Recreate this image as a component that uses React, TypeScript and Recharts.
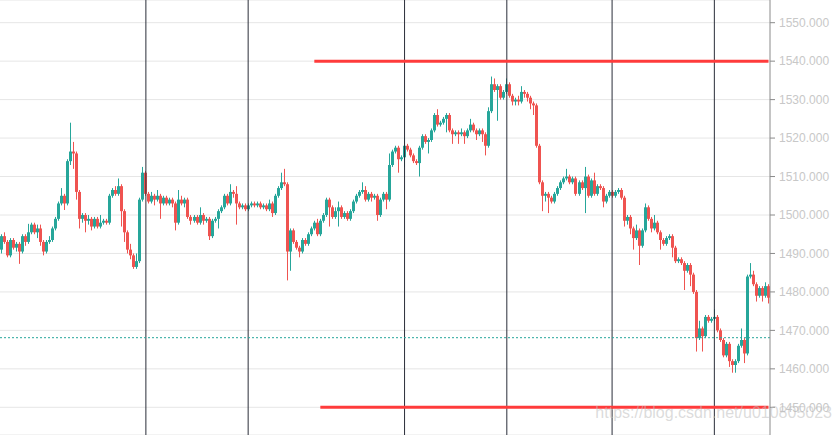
import { ComposedChart, Bar, XAxis, YAxis, CartesianGrid, ReferenceLine } from 'recharts';

// price of the first candle's open; every later open is the previous close
const firstOpen = 1491;

const closes = [
  1494.5, 1493, 1489.5, 1493.5, 1491.5, 1492.5, 1490.5, 1494.5, 1493, 1495.5,
  1497.5, 1495.5, 1496.5, 1493, 1490.5, 1493, 1493.5, 1496.5, 1499, 1503,
  1505, 1503, 1514, 1516.5, 1516, 1506, 1499, 1500, 1498.5, 1499,
  1497, 1499, 1497, 1498, 1498.5, 1498, 1505, 1506.5, 1505.5, 1507.5,
  1501, 1495.5, 1491, 1489.5, 1486.5, 1488, 1504, 1511, 1505.5, 1503.5,
  1505, 1504, 1505, 1503, 1504.5, 1503, 1504, 1503, 1498, 1504,
  1503, 1504, 1499.5, 1498.5, 1499.5, 1498, 1500, 1498.5, 1499, 1494.5,
  1498.5, 1499, 1501, 1502, 1505, 1503, 1506, 1505.5, 1503, 1502,
  1502.5, 1501.5, 1502.5, 1503, 1502.5, 1503, 1502, 1502.5, 1501.5, 1503,
  1500.5, 1505, 1507, 1508.5, 1508, 1490.5, 1496, 1493, 1491.5, 1490.5,
  1493.5, 1492.5, 1495, 1496.5, 1498, 1495, 1498.5, 1500, 1504, 1502,
  1499.5, 1501, 1502, 1499.5, 1500.5, 1499, 1501, 1503.5, 1505, 1506,
  1506.5, 1504, 1505.5, 1504.5, 1505, 1500, 1504, 1505.5, 1504, 1513,
  1516.5, 1517.5, 1514.5, 1515, 1518, 1517, 1515.5, 1514, 1513.5, 1517.5,
  1520.5, 1519, 1519.5, 1522, 1526, 1523.5, 1524, 1525, 1526, 1522,
  1521, 1521.5, 1521, 1521.5, 1520.5, 1522, 1523.5, 1522, 1521, 1522,
  1521, 1518, 1527, 1534, 1532.5, 1533.5, 1530.5, 1532, 1534, 1531,
  1529.5, 1530, 1529.5, 1532, 1531.5, 1530.5, 1529, 1528.5, 1518, 1508.5,
  1505, 1505.5, 1504.5, 1503.5, 1505.5, 1507, 1508.5, 1509.5, 1510, 1508.5,
  1509.5, 1505.5, 1508.5, 1507, 1510, 1505, 1509, 1505.5, 1507.5, 1507,
  1503.5, 1505, 1506, 1505, 1506, 1506.5, 1504.5, 1498.5, 1499.5, 1496.5,
  1494, 1496, 1492, 1496, 1502, 1499, 1496.5, 1498, 1495.5, 1493.5,
  1492.5, 1494, 1494.5, 1491.5, 1488, 1488.5, 1487.5, 1485.5, 1487, 1484.5,
  1480, 1468, 1470.5, 1468.5, 1473.5, 1472.5, 1473, 1473.5, 1470, 1467.5,
  1463.5, 1466.5, 1462, 1461, 1462, 1466, 1467.5, 1464, 1484, 1484.5,
  1482, 1479, 1481, 1479, 1481.5, 1478.5,
];

const highs = [
  1495, 1495.5, 1493.5, 1494, 1494, 1493, 1493, 1495, 1495, 1497.7,
  1498, 1498, 1497.5, 1497.5, 1493.5, 1493.5, 1494.5, 1497, 1499.5, 1503.5,
  1507, 1505.5, 1514.5, 1524, 1519, 1516.5, 1506.5, 1500.5, 1500.5, 1500,
  1499.5, 1499.5, 1499.5, 1500, 1499, 1499, 1505.5, 1507, 1507.5, 1509.5,
  1508, 1501.5, 1496, 1492.5, 1490, 1490, 1504.5, 1512.5, 1511.5, 1506,
  1506, 1505.5, 1506.5, 1505.5, 1505, 1505, 1504.5, 1504.5, 1503.5, 1506.5,
  1505, 1504.5, 1504.5, 1500, 1500, 1500, 1502, 1500.5, 1499.5, 1499.5,
  1499, 1499.5, 1501.5, 1502.5, 1505.5, 1505.5, 1508, 1506.5, 1507.5, 1503.5,
  1503, 1503, 1503, 1503.5, 1503.5, 1503.5, 1503.5, 1503, 1503, 1504,
  1503.5, 1505.5, 1507.5, 1511, 1512, 1508.5, 1496.5, 1496.5, 1493.5, 1492,
  1494, 1494, 1495.5, 1497, 1498.5, 1499, 1499, 1500.5, 1504.5, 1504.5,
  1502.5, 1502, 1503.5, 1502.5, 1501, 1501, 1501.5, 1504, 1505.5, 1506.5,
  1508.5, 1507.5, 1506, 1506, 1505.5, 1505.5, 1504.5, 1506, 1506, 1516,
  1517, 1518, 1518, 1515.5, 1520, 1518.5, 1517.5, 1516, 1514.5, 1518,
  1521, 1521, 1520, 1522.5, 1526.5, 1527.5, 1524.5, 1525.5, 1526.5, 1526.5,
  1522.5, 1522, 1522, 1522.5, 1522, 1522.5, 1525, 1524, 1522.5, 1522.5,
  1522.5, 1521.5, 1528, 1536, 1535.5, 1534, 1534, 1532.5, 1535.5, 1534.5,
  1531.5, 1530.5, 1531, 1533.5, 1532.5, 1532, 1531, 1529.5, 1529, 1518.5,
  1509, 1506, 1506, 1505, 1506, 1507.5, 1509, 1510, 1512, 1510.5,
  1510, 1510, 1509, 1509, 1512.5, 1510.5, 1509.5, 1511, 1508, 1508,
  1507.5, 1505.5, 1506.5, 1506.5, 1506.5, 1507, 1507, 1505, 1500, 1500,
  1497, 1497.5, 1496.5, 1496.5, 1503, 1502.5, 1499.5, 1500, 1498.5, 1496,
  1494, 1494.5, 1495, 1495, 1492, 1489, 1489, 1488, 1487.5, 1487.5,
  1485, 1480.5, 1472.5, 1471, 1474, 1474, 1473.5, 1475.5, 1474, 1470.5,
  1468, 1467, 1467, 1462.5, 1462.5, 1466.5, 1470.5, 1468, 1484.5, 1487.5,
  1485.5, 1482.5, 1481.5, 1481.5, 1482.5, 1482,
];

const lows = [
  1490, 1492.5, 1489, 1489, 1491, 1490.5, 1487.3, 1490, 1492, 1492.5,
  1495, 1495, 1494, 1492, 1489.5, 1490, 1492.5, 1493, 1496, 1498.5,
  1502.5, 1501.3, 1502.5, 1513, 1512, 1504, 1496.5, 1498, 1495.5, 1497.5,
  1496, 1496.5, 1496.5, 1496.5, 1497.5, 1497.5, 1497.5, 1504.5, 1505, 1505,
  1497, 1493, 1490, 1488.5, 1486, 1486, 1487.5, 1503.5, 1505, 1503,
  1503, 1502.5, 1503.5, 1499, 1502.5, 1502.5, 1502.5, 1502, 1496, 1497.5,
  1502.5, 1502, 1499, 1497.5, 1498, 1497.5, 1497.5, 1497.5, 1498, 1493.5,
  1494, 1498, 1496.5, 1500.5, 1501.5, 1502.5, 1502.5, 1504.5, 1497.5, 1501.5,
  1501.5, 1501, 1501, 1502, 1502, 1502, 1501.5, 1501.5, 1501, 1501,
  1499.5, 1500, 1504.5, 1506.5, 1507.5, 1483, 1485.5, 1492.5, 1491, 1489,
  1490, 1492, 1492, 1494.5, 1496, 1494.5, 1494.5, 1498, 1499.5, 1497,
  1499, 1499, 1497, 1499, 1499, 1498.5, 1498.5, 1500.5, 1503, 1504.5,
  1505.5, 1503.5, 1503.5, 1503.5, 1504, 1498.5, 1499.5, 1503.5, 1501.5, 1503.5,
  1512.5, 1516, 1511, 1514, 1512.5, 1516.5, 1515, 1513.5, 1513, 1510,
  1517, 1518.5, 1516, 1519, 1521.5, 1523, 1523, 1523.5, 1521.5, 1521.5,
  1518.5, 1520.5, 1518.5, 1520.5, 1518.5, 1520, 1521.5, 1521.5, 1519.5, 1520.5,
  1519, 1515.5, 1517.5, 1526.5, 1532, 1524.5, 1530, 1530, 1531.5, 1530.5,
  1528.5, 1528.5, 1528.5, 1529, 1530.5, 1529.5, 1527.5, 1526, 1517.5, 1508,
  1501, 1503.5, 1500.5, 1503, 1503, 1505, 1506.5, 1508, 1509, 1508,
  1508, 1505, 1505, 1506.5, 1500.5, 1504.5, 1504.5, 1505, 1505, 1506.5,
  1502, 1503, 1504.5, 1504.5, 1504.5, 1505.5, 1504, 1497, 1497.5, 1495,
  1491, 1493.5, 1487, 1491.5, 1495.5, 1498.5, 1495.5, 1496, 1495, 1491,
  1492, 1492, 1493.5, 1489, 1487.5, 1487.5, 1487, 1480.5, 1485, 1481.5,
  1479.5, 1464.5, 1467.5, 1464.5, 1468, 1472, 1472, 1472.5, 1469.5, 1467,
  1463, 1463, 1460.5, 1459, 1459, 1461.5, 1465.5, 1461.5, 1463.5, 1483.5,
  1481.5, 1477.5, 1478.5, 1477.5, 1478.5, 1477,
];

const yTicks = [1450, 1460, 1470, 1480, 1490, 1500, 1510, 1520, 1530, 1540, 1550];
// candle indexes where the dark session separators sit
const separators = [48, 82, 134, 168, 203, 237];
const lastPrice = 1468.1;
const upperLevel = 1540;
const lowerLevel = 1450;

const candles = closes.map((close, i) => ({
  i,
  open: i === 0 ? firstOpen : closes[i - 1],
  close,
  high: highs[i],
  low: lows[i],
}));

const UP = '#26a69a';
const DOWN = '#ef5350';

function Candle(props: any) {
  const { x, y, width, height, payload } = props;
  if (!payload) return null;
  const { open, close, high, low } = payload;
  const top = Math.min(y, y + height);
  const h = Math.abs(height);
  const span = high - low;
  const toY = (v: number) => (span === 0 ? top : top + ((high - v) / span) * h);
  const color = close >= open ? UP : DOWN;
  const bx = Math.round(x);
  const bodyTop = toY(Math.max(open, close));
  const bodyH = Math.max(1, toY(Math.min(open, close)) - bodyTop);
  return (
    <g>
      <rect x={bx + 1} y={top} width={1} height={Math.max(1, h)} fill={color} />
      <rect x={bx} y={bodyTop} width={Math.max(3, Math.round(width))} height={bodyH} fill={color} />
    </g>
  );
}

export default function App() {
  return (
    <div style={{ position: 'absolute', left: 0, top: 0, width: 834, height: 435, background: '#fff' }}>
      <ComposedChart
        width={834}
        height={435}
        data={candles}
        margin={{ top: 0, right: 0, bottom: 0, left: 0 }}
        barCategoryGap={0}
        barGap={0}
      >
        <CartesianGrid vertical={false} stroke="#e6e6e6" />
        <XAxis dataKey="i" hide />
        <YAxis
          orientation="right"
          width={64}
          domain={[1442.8, 1555.9]}
          ticks={yTicks}
          interval={0}
          tickFormatter={(v: number) => v.toFixed(3)}
          axisLine={{ stroke: '#8a8a8a' }}
          tickLine={{ stroke: '#8a8a8a' }}
          tickSize={5}
          tickMargin={4}
          tick={{ fill: '#c8c8c8', fontSize: 12, fontFamily: 'Liberation Sans, Arial, sans-serif' }}
        />
        {separators.map((s) => (
          <ReferenceLine key={s} x={s} stroke="#2a2e39" strokeWidth={1} />
        ))}
        <ReferenceLine y={lastPrice} stroke={UP} strokeDasharray="2 2" strokeWidth={1} />
        <Bar
          dataKey={(d: any) => [d.low, d.high]}
          shape={<Candle />}
          isAnimationActive={false}
        />
        <ReferenceLine
          segment={[{ x: 104, y: upperLevel }, { x: 255, y: upperLevel }]}
          stroke="#ff3b3b"
          strokeWidth={3}
        />
        <ReferenceLine
          segment={[{ x: 106, y: lowerLevel }, { x: 255, y: lowerLevel }]}
          stroke="#ff3b3b"
          strokeWidth={3}
        />
      </ComposedChart>
      <div
        style={{
          position: 'absolute',
          left: 0,
          top: 404,
          width: 832,
          textAlign: 'right',
          fontFamily: 'Liberation Sans, Arial, sans-serif',
          fontSize: 16,
          color: 'rgba(190,190,190,0.55)',
          pointerEvents: 'none',
        }}
      >
        https://blog.csdn.net/u010805023
      </div>
    </div>
  );
}
